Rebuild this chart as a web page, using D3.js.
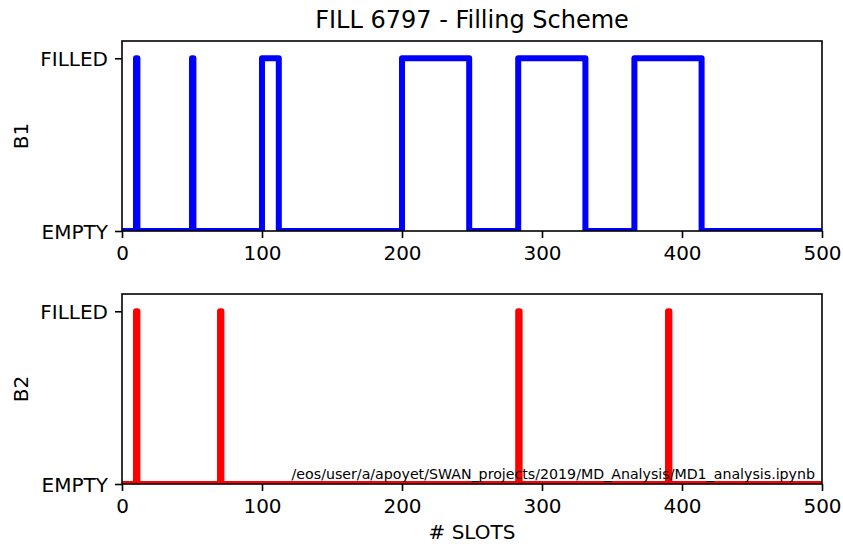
<!DOCTYPE html>
<html lang="en">

<head>
    <meta charset="utf-8">
    <title>FILL 6797 - Filling Scheme</title>
    <script type="text/javascript" src="https://cdn.jsdelivr.net/npm/d3@7"></script>
    <style type="text/css">
    body {
        margin: 0;
        background: white;
    }

    text {
        font-family: "DejaVu Sans", sans-serif;
        fill: black;
    }

    .axis path,
    .axis line {
        stroke: black;
        stroke-width: 1.6px;
    }
    </style>
</head>

<body>
    <script type="text/javascript">
    //Width and height
    var w = 843;
    var h = 544;

    //slot range shown
    var slotDomain = [0, 500];
    var xTicks = [0, 100, 200, 300, 400, 500];

    //filled trains (first slot, number of bunches)
    var b1Starts = [10, 50, 100, 200, 283, 366];
    var b1Lengths = [1, 1, 12, 48, 48, 48];
    var b2Starts = [10, 70, 283, 390];
    var b2Lengths = [1, 1, 1, 1];

    //y tick labels
    var yTickValues = [0, 1];
    var yTickLabels = ['EMPTY', 'FILLED'];

    var title = 'FILL 6797 - Filling Scheme';
    var xLabel = '# SLOTS';
    var notePath = '/eos/user/a/apoyet/SWAN_projects/2019/MD_Analysis/MD1_analysis.ipynb';

    //turn trains into one 0/1 value per slot
    var buildSlots = function(starts, lengths) {
        var slots = [];
        for (var s = slotDomain[0]; s <= slotDomain[1]; s++) {
            slots.push({ slot: s, value: 0 });
        }
        for (var i = 0; i < starts.length; i++) {
            for (var j = 0; j < lengths[i]; j++) {
                slots[starts[i] + j - slotDomain[0]].value = 1;
            }
        }
        return slots;
    };

    var panels = [
        { name: 'B1', color: '#0000ff', top: 41, data: buildSlots(b1Starts, b1Lengths) },
        { name: 'B2', color: '#ff0000', top: 294, data: buildSlots(b2Starts, b2Lengths) }
    ];

    var left = 122;
    var plotW = 700;
    var plotH = 190;

    var xScale = d3.scaleLinear()
        .domain(slotDomain)
        .range([left, left + plotW]);

    //create SVG
    var svg = d3.select('body')
        .append('svg')
        .attr('width', w)
        .attr('height', h);

    svg.append('rect')
        .attr('width', w)
        .attr('height', h)
        .attr('fill', 'white');

    panels.forEach(function(p, i) {

        var yScale = d3.scaleLinear()
            .domain([0, 1.1])
            .range([p.top + plotH, p.top]);

        //clip lines to the axes box
        svg.append('clipPath')
            .attr('id', 'clip' + i)
            .append('rect')
            .attr('x', left)
            .attr('y', p.top)
            .attr('width', plotW)
            .attr('height', plotH);

        var line = d3.line()
            .x(function(d) { return xScale(d.slot); })
            .y(function(d) { return yScale(d.value); })
            .curve(d3.curveStepAfter);

        svg.append('path')
            .datum(p.data)
            .attr('clip-path', 'url(#clip' + i + ')')
            .attr('d', line)
            .attr('fill', 'none')
            .attr('stroke', p.color)
            .attr('stroke-width', 6)
            .attr('stroke-linejoin', 'round')
            .attr('stroke-linecap', 'round');

        //x axis
        var xAxis = svg.append('g')
            .attr('class', 'axis')
            .attr('transform', 'translate(0,' + (p.top + plotH) + ')')
            .call(d3.axisBottom(xScale).tickValues(xTicks).tickSize(7).tickPadding(7).tickSizeOuter(0));
        xAxis.select('.domain').remove();
        xAxis.selectAll('text')
            .style('font-size', '20px')
            .style('font-family', '"DejaVu Sans", sans-serif')
            .attr('dy', '0.76em');

        //y axis
        var yAxis = svg.append('g')
            .attr('class', 'axis')
            .attr('transform', 'translate(' + left + ',0)')
            .call(d3.axisLeft(yScale)
                .tickValues(yTickValues)
                .tickFormat(function(d, k) { return yTickLabels[k]; })
                .tickSize(7).tickPadding(7));
        yAxis.select('.domain').remove();
        yAxis.selectAll('text')
            .style('font-size', '20px')
            .style('font-family', '"DejaVu Sans", sans-serif')
            .attr('dy', '0.36em');

        //spines on top
        svg.append('rect')
            .attr('x', left)
            .attr('y', p.top)
            .attr('width', plotW)
            .attr('height', plotH)
            .attr('fill', 'none')
            .attr('stroke', 'black')
            .attr('stroke-width', 1.6);

        //y label
        svg.append('text')
            .attr('transform', 'translate(28,' + (p.top + plotH / 2) + ') rotate(-90)')
            .attr('text-anchor', 'middle')
            .style('font-size', '20px')
            .text(p.name);
    });

    //title
    svg.append('text')
        .attr('x', left + plotW / 2)
        .attr('y', 28)
        .attr('text-anchor', 'middle')
        .style('font-size', '24px')
        .text(title);

    //x label
    svg.append('text')
        .attr('x', left + plotW / 2)
        .attr('y', 539)
        .attr('text-anchor', 'middle')
        .style('font-size', '20px')
        .text(xLabel);

    //notebook path note
    svg.append('text')
        .attr('x', left + plotW * 0.99)
        .attr('y', 479)
        .attr('text-anchor', 'end')
        .style('font-size', '14.2px')
        .text(notePath);
    </script>
</body>

</html>
